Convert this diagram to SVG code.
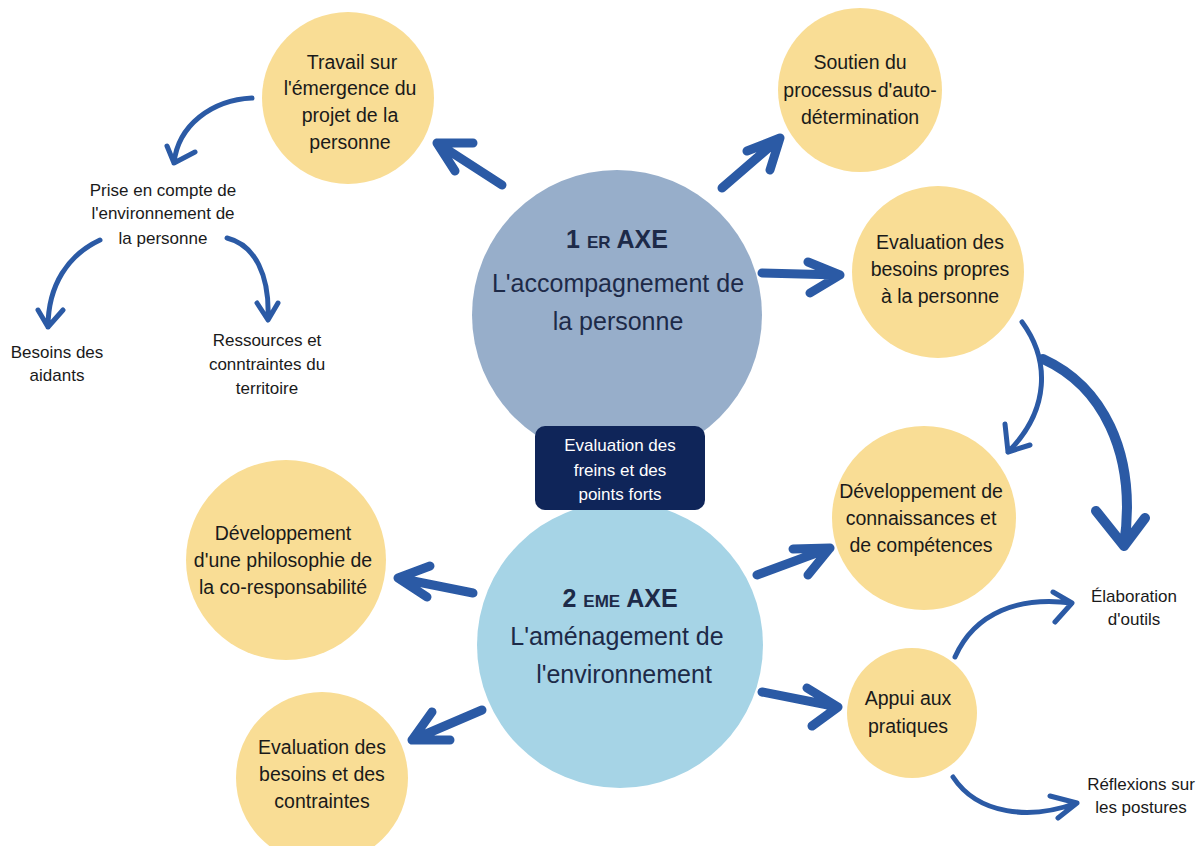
<svg xmlns="http://www.w3.org/2000/svg" width="1198" height="846" viewBox="0 0 1198 846">
  <style>
    text { font-family: "Liberation Sans", Arial, sans-serif; text-anchor: middle; }
    .bubble { fill: #f9dd95; }
    .bubble-txt { font-size: 19.5px; fill: #1a1a1a; }
    .side-txt { font-size: 17px; fill: #1a1a1a; }
    .axis-title { font-size: 25px; font-weight: bold; fill: #1d2a48; }
    .axis-title .sup { font-size: 17px; }
    .axis-txt { font-size: 25px; fill: #1d2a48; }
    .box-txt { font-size: 17px; fill: #ffffff; }
    .arw { fill: none; stroke: #2b5aa5; stroke-linecap: round; stroke-linejoin: round; }
    .bold { stroke-width: 9; }
    .heavy { stroke-width: 10; }
    .fine { stroke-width: 5; }
  </style>
  <rect width="1198" height="846" fill="#ffffff"/>

  <!-- central axes -->
  <g id="axe1">
    <circle cx="617" cy="315" r="145" fill="#97aeca"/>
    <text class="axis-title" x="617" y="248">1 <tspan class="sup">ER</tspan> AXE</text>
    <text class="axis-txt" x="618" y="292">L'accompagnement de</text>
    <text class="axis-txt" x="618" y="330">la personne</text>
  </g>
  <g id="axe2">
    <circle cx="620" cy="645" r="143" fill="#a6d4e6"/>
    <text class="axis-title" x="620" y="607">2 <tspan class="sup">EME</tspan> AXE</text>
    <text class="axis-txt" x="617" y="645">L'aménagement de</text>
    <text class="axis-txt" x="624" y="683">l'environnement</text>
  </g>
  <g id="freins">
    <rect x="535" y="426" width="170" height="84" rx="10" fill="#0f2559"/>
    <text class="box-txt" x="620" y="451">Evaluation des</text>
    <text class="box-txt" x="620" y="476">freins et des</text>
    <text class="box-txt" x="620" y="500">points forts</text>
  </g>

  <!-- satellite bubbles -->
  <g id="projet">
    <circle class="bubble" cx="348" cy="98" r="86"/>
    <text class="bubble-txt" x="352" y="69">Travail sur</text>
    <text class="bubble-txt" x="350" y="95">l'émergence du</text>
    <text class="bubble-txt" x="350" y="122">projet de la</text>
    <text class="bubble-txt" x="350" y="149">personne</text>
  </g>
  <g id="autodetermination">
    <circle class="bubble" cx="860" cy="90" r="82"/>
    <text class="bubble-txt" x="860" y="69">Soutien du</text>
    <text class="bubble-txt" x="860" y="97">processus d'auto-</text>
    <text class="bubble-txt" x="860" y="124">détermination</text>
  </g>
  <g id="besoins-propres">
    <circle class="bubble" cx="938" cy="272" r="86"/>
    <text class="bubble-txt" x="940" y="249">Evaluation des</text>
    <text class="bubble-txt" x="940" y="276">besoins propres</text>
    <text class="bubble-txt" x="940" y="303">à la personne</text>
  </g>
  <g id="connaissances">
    <circle class="bubble" cx="924" cy="518" r="92"/>
    <text class="bubble-txt" x="921" y="498">Développement de</text>
    <text class="bubble-txt" x="921" y="525">connaissances et</text>
    <text class="bubble-txt" x="921" y="552">de compétences</text>
  </g>
  <g id="pratiques">
    <circle class="bubble" cx="912" cy="713" r="65"/>
    <text class="bubble-txt" x="908" y="705">Appui aux</text>
    <text class="bubble-txt" x="908" y="733">pratiques</text>
  </g>
  <g id="coresponsabilite">
    <circle class="bubble" cx="286" cy="560" r="100"/>
    <text class="bubble-txt" x="283" y="540">Développement</text>
    <text class="bubble-txt" x="283" y="567">d'une philosophie de</text>
    <text class="bubble-txt" x="283" y="594">la co-responsabilité</text>
  </g>
  <g id="besoins-contraintes">
    <circle class="bubble" cx="322" cy="778" r="86"/>
    <text class="bubble-txt" x="322" y="754">Evaluation des</text>
    <text class="bubble-txt" x="322" y="781">besoins et des</text>
    <text class="bubble-txt" x="322" y="808">contraintes</text>
  </g>

  <!-- free labels -->
  <g id="environnement">
    <text class="side-txt" x="163" y="196">Prise en compte de</text>
    <text class="side-txt" x="163" y="219">l'environnement de</text>
    <text class="side-txt" x="163" y="244">la personne</text>
  </g>
  <g id="aidants">
    <text class="side-txt" x="57" y="358">Besoins des</text>
    <text class="side-txt" x="57" y="381">aidants</text>
  </g>
  <g id="territoire">
    <text class="side-txt" x="267" y="346">Ressources et</text>
    <text class="side-txt" x="267" y="370">conntraintes du</text>
    <text class="side-txt" x="267" y="394">territoire</text>
  </g>
  <g id="outils">
    <text class="side-txt" x="1134" y="602">Élaboration</text>
    <text class="side-txt" x="1134" y="625">d'outils</text>
  </g>
  <g id="postures">
    <text class="side-txt" x="1141" y="790">Réflexions sur</text>
    <text class="side-txt" x="1141" y="813">les postures</text>
  </g>

  <!-- connectors -->
  <g id="connectors">
    <!-- straight arrows out of the axes -->
    <path class="arw bold" d="M502,185 L437,143 M473,143 L437,143 L455,171"/>
    <path class="arw bold" d="M722,188 L780,138 M747,151 L780,138 L770,170"/>
    <path class="arw bold" d="M762,273 L840,275 M808,262 L840,275 L810,293"/>
    <path class="arw bold" d="M473,593 L398,578 M430,566 L398,578 L427,597"/>
    <path class="arw bold" d="M482,710 L412,740 M432,712 L412,740 L450,740"/>
    <path class="arw bold" d="M757,575 L830,548 M793,549 L830,548 L808,575"/>
    <path class="arw bold" d="M762,692 L838,707 M807,688 L838,707 L812,726"/>

    <!-- curved arrows around the first bubble -->
    <path class="arw fine" d="M252,98 C212,100 178,125 174,163 M167,146 L174,163 L195,152"/>
    <path class="arw fine" d="M100,240 C68,255 48,285 48,327 M38,310 L48,327 L63,310"/>
    <path class="arw fine" d="M227,238 C255,245 270,275 268,320 M257,303 L268,320 L278,303"/>

    <!-- split arrow below the needs bubble -->
    <path class="arw fine" d="M1022,322 C1050,360 1050,410 1008,452 M1005,424 L1008,452 L1030,445"/>
    <path class="arw heavy" d="M1043,359 C1100,385 1138,450 1124,546 M1096,511 L1124,546 L1145,518"/>

    <!-- curved arrows from the practice bubble -->
    <path class="arw fine" d="M955,657 C975,612 1020,596 1072,603 M1053,592 L1072,603 L1055,622"/>
    <path class="arw fine" d="M953,777 C978,815 1030,820 1077,803 M1050,796 L1077,803 L1058,818"/>
  </g>
</svg>
